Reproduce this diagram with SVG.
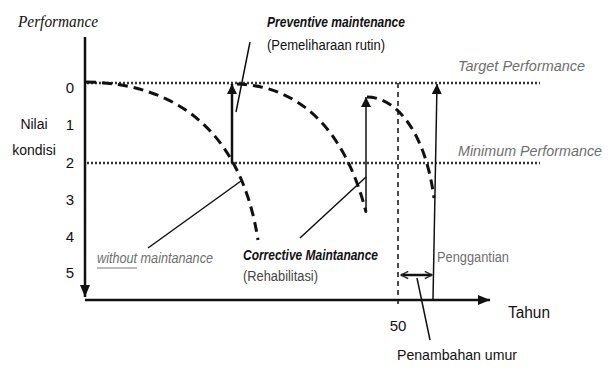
<svg xmlns="http://www.w3.org/2000/svg" width="611" height="367" viewBox="0 0 611 367">
<style>
.t{font-family:"Liberation Sans",Arial,sans-serif;fill:#111}
.g{fill:#6e6e6e}
.i{font-style:italic}
.b{font-weight:bold}
.dot{stroke:#333;stroke-width:2.5;stroke-dasharray:2 2;fill:none}
.crv{stroke:#111;stroke-width:3;stroke-dasharray:10 6;fill:none}
.ln{stroke:#111;fill:none}
</style>
<defs>
<marker id="ah" viewBox="0 0 10 10" refX="10" refY="5" markerWidth="10" markerHeight="10" markerUnits="userSpaceOnUse" orient="auto">
<path d="M0,0 L10,5 L0,10 Z" fill="#111"/>
</marker>
<marker id="ahL" viewBox="0 0 12 10" refX="12" refY="5" markerWidth="13" markerHeight="10" markerUnits="userSpaceOnUse" orient="auto">
<path d="M0,0 L12,5 L0,10 Z" fill="#111"/>
</marker>
<marker id="open" viewBox="0 0 10 10" refX="9" refY="5" markerWidth="9" markerHeight="9" markerUnits="userSpaceOnUse" orient="auto-start-reverse">
<path d="M1,1 L9,5 L1,9" fill="none" stroke="#222" stroke-width="1.5"/>
</marker>
</defs>
<rect width="611" height="367" fill="#fff"/>

<g id="axes">
<line class="ln" x1="85" y1="37" x2="85" y2="297" stroke-width="2.5" marker-end="url(#ahL)"/>
<line class="ln" x1="85" y1="300" x2="490" y2="300" stroke-width="2.5" marker-end="url(#ahL)"/>
<text class="t i" x="18" y="27" style="font-family:'Liberation Serif','Times New Roman',serif;font-size:16px" textLength="80" lengthAdjust="spacingAndGlyphs">Performance</text>
<text class="t" x="34" y="129" font-size="14" text-anchor="middle">Nilai</text>
<text class="t" x="34" y="155" font-size="14" text-anchor="middle">kondisi</text>
<g font-size="15" text-anchor="middle">
<text class="t" x="70" y="93">0</text>
<text class="t" x="70" y="130">1</text>
<text class="t" x="70" y="168">2</text>
<text class="t" x="70" y="205">3</text>
<text class="t" x="70" y="242">4</text>
<text class="t" x="70" y="278">5</text>
</g>
<text class="t" x="508" y="318" font-size="16" textLength="42" lengthAdjust="spacingAndGlyphs">Tahun</text>
<text class="t" x="398" y="331" font-size="15" text-anchor="middle">50</text>
</g>

<g id="target">
<line class="dot" x1="87" y1="83" x2="540" y2="83"/>
<text class="t g i" x="458" y="71" font-size="15" textLength="127" lengthAdjust="spacingAndGlyphs">Target Performance</text>
</g>
<g id="minimum">
<line class="dot" x1="87" y1="163" x2="540" y2="163"/>
<text class="t g i" x="458" y="156" font-size="15" textLength="144" lengthAdjust="spacingAndGlyphs">Minimum Performance</text>
</g>

<g id="connectors">
<path class="crv" d="M86,82 C170,83 240,125 258,240"/>
<path class="crv" d="M237,84 C300,86 345,130 366,212"/>
<path class="crv" d="M367,97 C395,97 425,130 434,198"/>
<line class="ln" x1="232" y1="163" x2="232" y2="84" stroke-width="2.5" marker-end="url(#ah)"/>
<line class="ln" x1="366" y1="213" x2="366" y2="97" stroke-width="1.5" marker-end="url(#ah)"/>
<line class="ln" x1="433" y1="300" x2="437" y2="84" stroke-width="1.5" marker-end="url(#ah)"/>
<line class="ln" x1="398" y1="83" x2="398" y2="308" stroke="#333" stroke-width="1.5" stroke-dasharray="5 4"/>
<line class="ln" x1="401" y1="275" x2="432" y2="275" stroke="#333" stroke-width="2.5" marker-start="url(#open)" marker-end="url(#open)"/>
<line class="ln" x1="250" y1="42" x2="236" y2="112" stroke-width="1.5"/>
<line class="ln" x1="148" y1="248" x2="241" y2="181" stroke-width="1.5"/>
<line class="ln" x1="300" y1="238" x2="366" y2="177" stroke-width="1.5"/>
<line class="ln" x1="417" y1="278" x2="430" y2="340" stroke-width="1.5"/>
</g>

<g id="preventive">
<text class="t i b" x="267" y="27" font-size="14" textLength="138" lengthAdjust="spacingAndGlyphs">Preventive maintenance</text>
<text class="t" x="267" y="50" font-size="14" fill="#333" textLength="118" lengthAdjust="spacingAndGlyphs">(Pemeliharaan rutin)</text>
</g>
<g id="without">
<text class="t g i" x="97" y="263" font-size="14" textLength="116" lengthAdjust="spacingAndGlyphs">without maintanance</text>
<line x1="97" y1="268" x2="137" y2="268" stroke="#777" stroke-width="1"/>
</g>
<g id="corrective">
<text class="t i b" x="243" y="260" font-size="14" textLength="135" lengthAdjust="spacingAndGlyphs">Corrective Maintanance</text>
<text class="t" x="243" y="281" font-size="14" style="fill:#444" textLength="75" lengthAdjust="spacingAndGlyphs">(Rehabilitasi)</text>
</g>
<g id="penggantian">
<text class="t g" x="437" y="262" font-size="14" textLength="72" lengthAdjust="spacingAndGlyphs">Penggantian</text>
</g>
<g id="penambahan">
<text class="t" x="397" y="360" font-size="15" textLength="120" lengthAdjust="spacingAndGlyphs">Penambahan umur</text>
</g>
</svg>
